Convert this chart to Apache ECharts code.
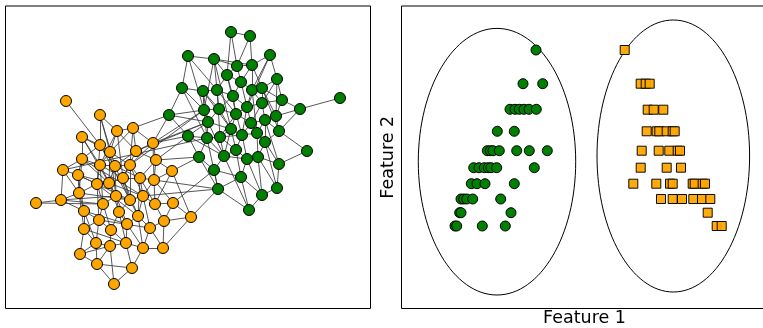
<!DOCTYPE html>
<html>
<head>
<meta charset="utf-8">
<script src="https://cdn.jsdelivr.net/npm/echarts@6/dist/echarts.min.js"></script>
<style>
html,body{margin:0;padding:0;background:#fff;}
#chart{width:763px;height:328px;}
</style>
</head>
<body>
<div id="chart"></div>
<script>
// ---- Left panel: network layout (layout coordinates) ----
const orangeNodes = [
  [66,101],[100,115],[117,131],[133,128],[82,137],[100,145],[110,152],[136,151],[153,143],[82,159],
  [100,165],[115,166],[130,165],[156,160],[63,170],[78,175],[172,171],[97,184],[109,183],[123,178],
  [140,178],[154,180],[79,193],[36,203],[61,200],[103,204],[116,196],[130,200],[143,196],[155,204],
  [173,203],[84,211],[119,212],[99,220],[138,216],[191,217],[84,229],[111,230],[127,224],[150,228],
  [164,221],[96,243],[110,246],[126,243],[143,248],[163,248],[80,254],[97,264],[132,268],[114,284]
];
const greenNodes = [
  [231,32],[250,36],[188,56],[214,59],[270,55],[237,66],[252,65],[227,75],[241,82],[277,79],
  [182,88],[203,91],[217,90],[252,90],[262,88],[233,96],[282,100],[340,98],[262,103],[247,107],
  [300,109],[204,110],[219,109],[169,115],[236,114],[276,116],[208,122],[251,123],[265,120],[231,129],
  [279,131],[188,136],[207,138],[220,137],[242,135],[257,133],[265,142],[236,150],[307,151],[199,157],
  [224,156],[247,159],[258,157],[214,170],[279,164],[241,177],[218,189],[262,195],[277,188],[249,210]
];
const orangeEdges = [
  [0,5],[1,5],[1,6],[1,11],[1,2],[2,6],[2,7],[2,10],[2,19],[3,2],[3,7],[3,8],[3,12],[3,6],
  [4,9],[4,5],[4,10],[4,18],[4,6],[5,6],[5,11],[5,9],[5,17],[5,27],[6,12],[6,18],[6,26],[6,10],
  [7,8],[7,13],[7,11],[7,19],[8,13],[8,12],[8,21],[9,15],[9,10],[9,14],[9,18],[9,22],[9,28],
  [10,11],[10,19],[10,25],[10,17],[10,26],[11,12],[11,18],[11,27],[11,26],[11,20],[12,19],[12,20],
  [12,28],[12,27],[13,20],[13,16],[13,21],[14,15],[14,24],[14,22],[15,17],[15,18],[15,31],[15,22],
  [15,27],[16,21],[16,35],[16,29],[17,18],[17,25],[17,22],[17,33],[17,34],[18,19],[18,26],[18,32],
  [18,28],[19,20],[19,27],[19,34],[20,21],[20,28],[20,29],[20,34],[21,29],[21,30],[21,28],[22,31],
  [22,24],[22,36],[22,27],[23,24],[23,25],[24,31],[24,25],[24,26],[25,26],[25,33],[25,37],[26,27],
  [26,32],[26,38],[27,28],[27,34],[27,32],[28,29],[28,34],[28,39],[29,30],[29,40],[30,40],[30,35],
  [31,33],[31,36],[31,41],[31,38],[32,37],[32,38],[32,43],[33,37],[33,41],[33,36],[33,39],[34,38],
  [34,39],[34,44],[35,40],[35,45],[36,41],[36,46],[36,43],[37,42],[37,43],[38,43],[38,44],[39,44],
  [39,40],[39,45],[40,45],[41,42],[41,47],[41,46],[42,43],[42,49],[42,47],[42,46],[43,48],[43,44],
  [44,45],[44,48],[46,47],[47,49],[48,49],[47,48]
];
const greenEdges = [
  [0,1],[0,5],[0,7],[1,5],[1,6],[2,3],[2,10],[2,12],[2,21],[3,5],[3,6],[3,7],[3,21],[3,12],[3,29],
  [4,6],[4,13],[4,9],[4,19],[5,6],[5,8],[5,7],[6,8],[6,13],[6,14],[7,8],[7,12],[7,15],[7,24],
  [8,13],[8,15],[8,19],[9,14],[9,16],[9,18],[9,25],[10,23],[10,21],[10,11],[10,32],[11,12],[11,21],
  [11,22],[11,26],[11,29],[12,15],[12,22],[12,24],[12,33],[13,14],[13,19],[13,18],[13,35],[14,16],
  [14,18],[14,25],[14,30],[15,19],[15,24],[15,22],[16,20],[16,25],[16,18],[17,20],[18,19],[18,27],
  [18,28],[19,24],[19,27],[19,34],[20,25],[20,30],[21,22],[21,26],[21,23],[21,32],[22,24],[22,26],
  [22,29],[23,31],[23,26],[24,27],[24,29],[24,34],[24,33],[25,28],[25,30],[26,32],[26,29],[26,31],
  [26,40],[27,28],[27,34],[27,35],[28,30],[28,35],[28,36],[28,44],[29,33],[29,34],[29,37],[29,40],
  [30,36],[30,38],[31,32],[31,39],[31,40],[32,33],[32,39],[32,40],[32,46],[33,34],[33,40],[33,37],
  [34,35],[34,37],[34,41],[35,36],[35,42],[36,42],[36,44],[36,48],[37,40],[37,41],[37,45],[38,44],
  [39,43],[39,46],[40,43],[40,41],[40,49],[41,42],[41,45],[41,47],[42,44],[42,47],[42,48],[43,46],
  [43,45],[44,48],[45,49],[45,46],[46,49],[47,49],[47,48],[47,45]
];
// [orange index, green index]
const crossEdges = [
  [8,23],[8,31],[8,21],[8,26],[3,23],[13,31],[13,39],[12,21],[7,26],[16,39],[14,32],
  [28,46],[30,43],[35,46],[21,46]
];

// ---- Right panel: feature space ----
const greenF1 = [536,523,542.7,510,515,519.3,524,529,536.3,497.3,514.3,
  487.3,490.3,493,499.3,516.7,529.3,547.3,473.7,479,484.3,488.3,491,496.7,534.3,
  471.3,477,485,514.3,461,463.7,466.7,472.7,500.7,459.7,461,511,455,456.7,482.3,505.3];
const greenF2 = [50,83.7,83.7,109.3,109.3,109.3,109.3,109.3,109.3,131.3,131.3,
  150.7,150.7,150.7,150.7,150.7,150.7,150.7,167.7,167.7,167.7,167.7,167.7,167.7,167.7,
  183.7,183.7,183.7,183.7,199,199,199,199,199,212.7,212.7,212.7,226,226,226,226];
const orangeF1 = [624.7,640.7,645.7,649.7,647.7,653.7,663.3,646.7,656.7,659.3,666.7,672.7,674.7,
  641.7,658.7,669.3,677.7,680,640.7,666.7,681,
  633.3,656.3,670,672.7,692.7,694.7,702.7,705,661,672.7,682,693.3,702,710.3,707.7,716.7,721.7];
const orangeF2 = [50,83.7,83.7,83.7,109.7,109.7,109.7,131.3,131.3,131.3,131.3,131.3,131.3,
  150.7,150.7,150.7,150.7,150.7,167.7,167.7,167.7,
  183.7,183.7,183.7,183.7,183.7,183.7,183.7,183.7,199,199,199,199,199,199,212.7,226,226];
// ellipses: [centerF1, centerF2, halfWidth, halfHeight]
const ellipses = [[497,161.7,78.7,133.3],[673.3,156,76.3,136]];

const ORANGE = '#FFA500', GREEN = '#008000';

const nodes = orangeNodes.map(p => ({value: p, itemStyle: {color: ORANGE}}))
  .concat(greenNodes.map(p => ({value: p, itemStyle: {color: GREEN}})));
const links = orangeEdges.map(e => ({source: e[0], target: e[1]}))
  .concat(greenEdges.map(e => ({source: e[0] + 50, target: e[1] + 50})))
  .concat(crossEdges.map(e => ({source: e[0], target: e[1] + 50})));

const chart = echarts.init(document.getElementById('chart'), null, {renderer: 'canvas'});
const hiddenAxis = {show: true, axisLine: {show: false}, axisTick: {show: false},
  axisLabel: {show: false}, splitLine: {show: false}};

chart.setOption({
  animation: false,
  backgroundColor: '#fff',
  grid: [
    {left: 5.5, top: 6, width: 365, height: 302.5, show: true, borderColor: '#000', borderWidth: 1,
      backgroundColor: 'transparent', containLabel: false, outerBoundsMode: 'none'},
    {left: 401.5, top: 6, width: 366, height: 302.5, show: true, borderColor: '#000', borderWidth: 1,
      backgroundColor: 'transparent', containLabel: false, outerBoundsMode: 'none'}
  ],
  xAxis: [
    Object.assign({type: 'value', gridIndex: 0, min: 5.5, max: 370.5}, hiddenAxis),
    Object.assign({type: 'value', gridIndex: 1, min: 401.5, max: 767.5, name: 'Feature 1',
      nameLocation: 'middle', nameGap: 1,
      nameTextStyle: {fontFamily: 'DejaVu Sans', fontSize: 17.5, color: '#000', verticalAlign: 'top'}}, hiddenAxis)
  ],
  yAxis: [
    Object.assign({type: 'value', gridIndex: 0, min: 6, max: 308.5, inverse: true}, hiddenAxis),
    Object.assign({type: 'value', gridIndex: 1, min: 6, max: 308.5, inverse: true, name: 'Feature 2',
      nameLocation: 'middle', nameGap: 4, nameRotate: 90,
      nameTextStyle: {fontFamily: 'DejaVu Sans', fontSize: 17.5, color: '#000'}}, hiddenAxis)
  ],
  series: [
    {
      type: 'graph', coordinateSystem: 'cartesian2d', xAxisIndex: 0, yAxisIndex: 0,
      layout: 'none', symbol: 'circle', symbolSize: 11, silent: true,
      itemStyle: {borderColor: '#000', borderWidth: 1},
      lineStyle: {color: '#3a3a3a', width: 1, opacity: 0.85, curveness: 0},
      data: nodes, links: links, z: 2
    },
    {
      type: 'custom', xAxisIndex: 1, yAxisIndex: 1, silent: true, z: 1,
      data: ellipses,
      renderItem: function (params, api) {
        const c = api.coord([api.value(0), api.value(1)]);
        const s = api.size([api.value(2), api.value(3)]);
        return {type: 'ellipse', shape: {cx: c[0], cy: c[1], rx: Math.abs(s[0]), ry: Math.abs(s[1])},
          style: {fill: null, stroke: '#000', lineWidth: 1}};
      }
    },
    {
      type: 'scatter', xAxisIndex: 1, yAxisIndex: 1, symbol: 'circle', symbolSize: 10, silent: true, z: 3,
      itemStyle: {color: GREEN, borderColor: '#000', borderWidth: 1, opacity: 1},
      data: greenF1.map((v, i) => [v, greenF2[i]])
    },
    {
      type: 'scatter', xAxisIndex: 1, yAxisIndex: 1, symbol: 'rect', symbolSize: 9, silent: true, z: 3,
      itemStyle: {color: ORANGE, borderColor: '#000', borderWidth: 1, opacity: 0.95},
      data: orangeF1.map((v, i) => [v, orangeF2[i]])
    }
  ]
});
</script>
</body>
</html>
